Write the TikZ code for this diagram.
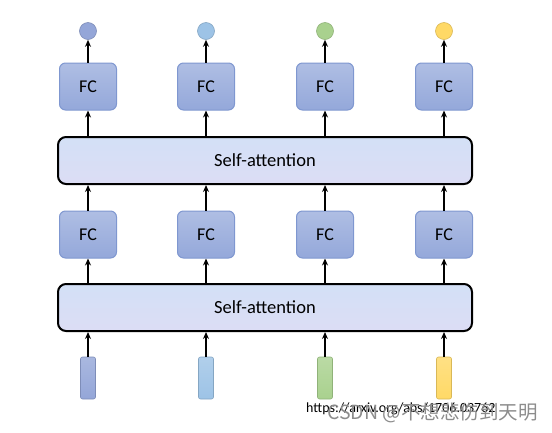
\documentclass[tikz,border=0pt]{standalone}
\usepackage{fontspec}
\setmainfont{Carlito}
\newfontfamily\cjkfont{Noto Sans CJK SC}
\usetikzlibrary{arrows.meta,positioning}
\definecolor{fcfill}{HTML}{94A8DA}
\definecolor{fcline}{HTML}{7F97D0}
\definecolor{satop}{HTML}{D3E0F6}
\definecolor{sabot}{HTML}{DCDDF5}
\definecolor{cblue}{HTML}{94A6D8}
\definecolor{clight}{HTML}{9DC3E6}
\definecolor{cgreen}{HTML}{A9D18E}
\definecolor{cyellow}{HTML}{FFD966}
\tikzset{
  fcbox/.style={draw=fcline, line width=1pt, rounded corners=6pt, top color=fcfill!75!white, bottom color=fcfill,
    minimum width=57pt, minimum height=47pt, font=\fontsize{18}{21}\selectfont},
  sabox/.style={draw=black, line width=2pt, rounded corners=8pt, top color=satop, bottom color=sabot,
    minimum width=414pt, minimum height=47pt, font=\fontsize{18.5}{22}\selectfont},
  outdot/.style={circle, draw=#1!85!black, line width=0.6pt, fill=#1, minimum size=17pt, inner sep=0pt},
  inbar/.style={draw=#1!85!black, line width=0.6pt, rounded corners=2pt, top color=#1!80!white, bottom color=#1,
    minimum width=15pt, minimum height=42pt, inner sep=0pt},
  flow/.style={-{Stealth[length=7pt,width=6pt]}, line width=1.8pt},
}
\begin{document}
\begin{tikzpicture}[x=1pt,y=-1pt]
  \useasboundingbox (0,0) rectangle (552,432);
  % attention layers
  \node[sabox] (saT) at (265,160.5) {Self-attention};
  \node[sabox] (saB) at (265,307.5) {Self-attention};
  % columns
  \foreach \i/\x/\c in {1/88/cblue, 2/206/clight, 3/325/cgreen, 4/444/cyellow} {
    \node[outdot=\c] (out\i) at (\x,31) {};
    \node[fcbox] (fcT\i) at (\x,86.5) {FC};
    \node[fcbox] (fcB\i) at (\x,234.5) {FC};
    \node[inbar=\c] (in\i) at (\x,378) {};
    \draw[flow] (in\i.north) -- (in\i.north |- saB.south);
    \draw[flow] (fcB\i.south |- saB.north) -- (fcB\i.south);
    \draw[flow] (fcB\i.north) -- (fcB\i.north |- saT.south);
    \draw[flow] (fcT\i.south |- saT.north) -- (fcT\i.south);
    \draw[flow] (fcT\i.north) -- (out\i.south);
  }
  % watermark
  \node[anchor=west, font=\fontsize{14}{16}\selectfont, inner sep=0pt] (src) at (306,409) {https://arxiv.org/abs/1706.03762};
  \node[anchor=west, text=black!45, font=\cjkfont\fontsize{19.5}{22}\selectfont, inner sep=0pt] (csdn) at (327,413) {CSDN @不想悲伤到天明};
\end{tikzpicture}
\end{document}
